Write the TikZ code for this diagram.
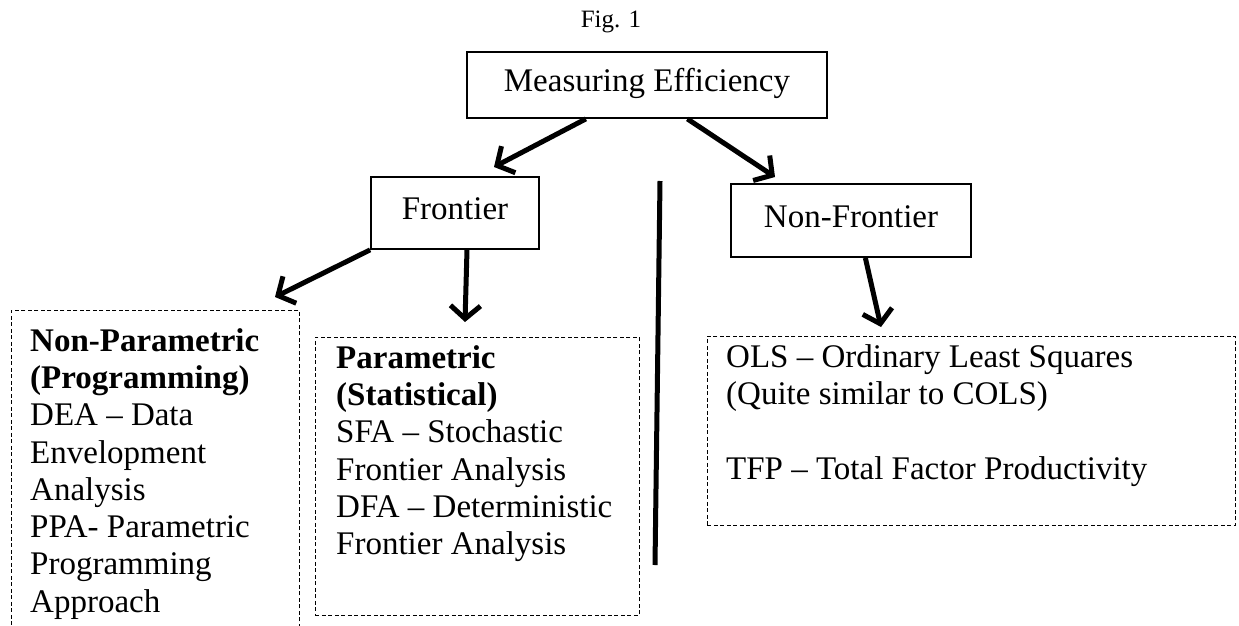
\documentclass[tikz,border=0pt]{standalone}
\usepackage{fontspec}
\setmainfont{Liberation Serif}
\usetikzlibrary{positioning,arrows.meta}

\begin{document}
\begin{tikzpicture}[x=1pt, y=-1pt,
  caixa/.style={draw, line width=1.8pt, inner sep=0pt, text height=23pt, text depth=10pt, font=\fontsize{33}{37.3}\selectfont},
  tracejada/.style={draw, line width=0.9pt, dash pattern=on 4pt off 2.5pt, inner sep=0pt},
  texto/.style={align=left, inner sep=0pt, font=\fontsize{33}{37.3}\selectfont},
  seta/.style={line width=5pt, -{Straight Barb[length=13pt,width=30pt]}}]
\useasboundingbox (0,0) rectangle (1239,626);
\clip (0,0) rectangle (1239,626);

%titulo
\node[anchor=base, inner sep=0pt, font=\fontsize{25}{30}\selectfont] (fig) at (611,28) {Fig. 1};

%caixas
\node[caixa, minimum width=360pt, minimum height=66pt] (medir) at (647,85) {Measuring Efficiency};
\node[caixa, minimum width=168pt, minimum height=72pt] (front) at (455,213) {Frontier};
\node[caixa, minimum width=240pt, minimum height=73pt] (naofront) at (851,220.5) {Non-Frontier};

%caixas tracejadas
\node[tracejada, anchor=north west, minimum width=288pt, minimum height=400pt] (naopar) at (11,310) {};
\node[tracejada, anchor=north west, minimum width=324pt, minimum height=278pt] (par) at (315,337) {};
\node[tracejada, anchor=north west, minimum width=528pt, minimum height=189pt] (mqo) at (707,336) {};

%textos
\node[texto, below right=18pt and 19pt of naopar.north west] (naopartxt) {\textbf{Non-Parametric}\\\textbf{(Programming)}\\DEA – Data\\Envelopment\\Analysis\\PPA- Parametric\\Programming\\Approach};
\node[texto, below right=8pt and 21pt of par.north west] (partxt) {\textbf{Parametric}\\\textbf{(Statistical)}\\SFA – Stochastic\\Frontier Analysis\\DFA – Deterministic\\Frontier Analysis};
\node[texto, below right=8.5pt and 19pt of mqo.north west] (mqotxt) {OLS – Ordinary Least Squares\\(Quite similar to COLS)\\[37.3pt]TFP – Total Factor Productivity};

%setas
\coordinate (p1) at (494,167);
\coordinate (p2) at (775,177);
\coordinate (p3) at (275,297);
\coordinate (p4) at (465,322);
\coordinate (p5) at (881,327);
\draw[seta] (medir.-151) -- (p1);
\draw[seta] (medir.-40) -- (p2);
\draw[seta] (front.south west) -- (p3);
\draw[seta] (front.-72) -- (p4);
\draw[seta] (naofront.-69) -- (p5);

%divisao
\draw[line width=5pt] (660,181) -- (655,565);

\end{tikzpicture}
\end{document}
